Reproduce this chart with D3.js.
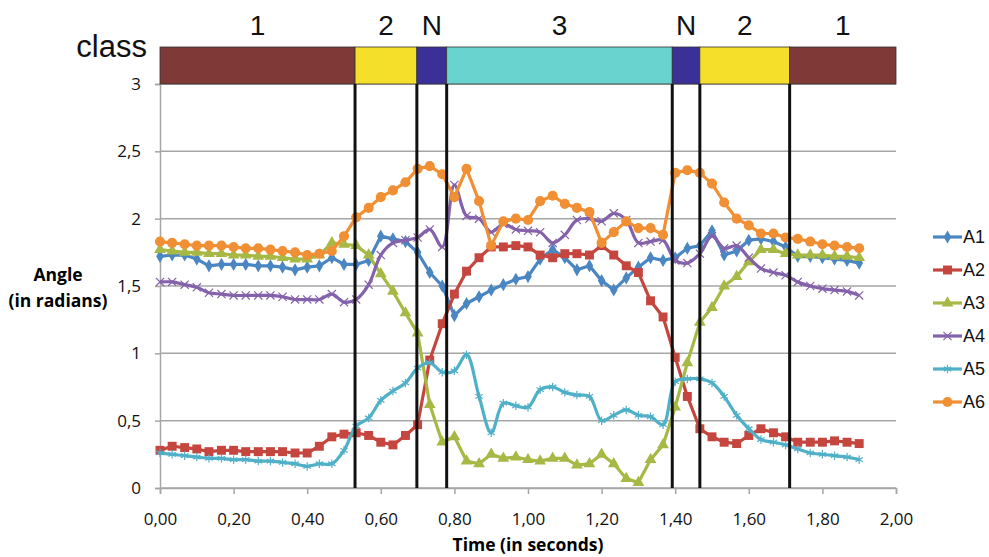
<!DOCTYPE html>
<html>
<head>
<meta charset="utf-8">
<script src="https://cdn.jsdelivr.net/npm/d3@7"></script>
<style>
  body { margin: 0; background: #fff; }
  svg { display: block; }
</style>
</head>
<body>
<svg id="canvas"></svg>
<script>
// time of every sample (30 frames per second)
const times = [0, 0.033, 0.067, 0.1, 0.133, 0.167, 0.2, 0.233, 0.267, 0.3,
    0.333, 0.367, 0.4, 0.433, 0.467, 0.5, 0.533, 0.567, 0.6, 0.633,
    0.667, 0.7, 0.733, 0.767, 0.8, 0.833, 0.867, 0.9, 0.933, 0.967,
    1, 1.033, 1.067, 1.1, 1.133, 1.167, 1.2, 1.233, 1.267, 1.3,
    1.333, 1.367, 1.4, 1.433, 1.467, 1.5, 1.533, 1.567, 1.6, 1.633,
    1.667, 1.7, 1.733, 1.767, 1.8, 1.833, 1.867, 1.9];

const A1 = [1.72,1.73,1.73,1.70,1.65,1.66,1.66,1.66,1.65,1.65,1.64,1.62,1.64,1.65,1.71,1.66,1.66,1.69,
    1.87,1.85,1.83,1.75,1.60,1.50,1.28,1.37,1.42,1.47,1.51,1.55,1.57,1.70,1.77,
    1.71,1.62,1.65,1.54,1.47,1.56,1.64,1.71,1.69,1.71,1.78,1.80,1.91,1.73,1.76,
    1.84,1.85,1.83,1.79,1.72,1.72,1.71,1.70,1.69,1.67];
const A2 = [0.28,0.31,0.30,0.29,0.27,0.28,0.28,0.27,0.27,0.27,0.27,0.26,0.26,0.31,0.38,
    0.40,0.41,0.39,0.34,0.32,0.39,0.47,0.95,1.22,1.44,1.61,1.71,1.79,1.79,1.80,1.79,1.73,1.71,
    1.74,1.74,1.73,1.80,1.73,1.65,1.60,1.39,1.27,0.97,0.68,0.44,0.38,0.34,0.33,
    0.39,0.44,0.41,0.38,0.34,0.34,0.34,0.35,0.34,0.33];
const A3 = [1.77,1.76,1.75,1.75,1.74,1.74,1.73,1.73,1.72,1.72,1.71,1.70,1.70,
    1.73,1.82,1.81,1.80,1.73,1.59,1.46,1.30,1.15,
    0.62,0.34,0.38,0.20,0.18,0.25,0.22,0.23,0.21,0.20,0.22,
    0.22,0.17,0.18,0.25,0.18,0.07,0.04,0.21,0.32,0.60,0.93,
    1.23,1.34,1.50,1.57,1.68,1.77,1.77,1.74,1.73,1.73,1.73,1.72,1.72,1.71];
const A4 = [1.53,1.53,1.51,1.49,1.45,1.44,1.43,1.43,1.43,1.43,1.42,1.40,1.40,1.40,1.44,1.38,1.40,1.51,
    1.73,1.82,1.84,1.86,1.92,1.79,2.25,2.02,2.00,1.90,1.96,1.92,1.91,1.90,1.82,
    1.88,1.99,2.00,1.98,2.04,1.99,1.82,1.83,1.84,1.69,1.67,1.74,1.87,1.78,1.80,
    1.71,1.63,1.60,1.58,1.53,1.50,1.48,1.47,1.46,1.43];
const A5 = [0.26,0.25,0.24,0.23,0.22,0.22,0.21,0.21,0.20,0.20,0.19,0.18,0.16,0.18,0.18,
    0.28,0.46,0.52,0.65,0.72,0.78,0.89,0.93,0.86,0.87,0.99,0.68,0.41,0.63,0.61,0.60,0.73,0.75,
    0.71,0.69,0.68,0.50,0.54,0.58,0.54,0.53,0.47,0.79,0.81,0.81,0.78,0.68,0.54,
    0.44,0.36,0.34,0.32,0.29,0.26,0.25,0.24,0.23,0.21];
const A6 = [1.83,1.82,1.81,1.80,1.80,1.80,1.79,1.78,1.78,1.77,1.76,1.75,1.73,1.74,1.76,
    1.87,2.01,2.08,2.16,2.21,2.27,2.37,2.39,2.33,2.16,2.37,2.13,1.80,1.98,2.00,1.99,2.13,2.17,
    2.11,2.08,2.05,1.82,1.90,1.98,1.93,1.93,1.88,2.34,2.36,2.34,2.26,2.12,2.00,
    1.95,1.89,1.89,1.86,1.85,1.83,1.81,1.80,1.79,1.78];

const seriesNames = ["A1", "A2", "A3", "A4", "A5", "A6"];
const seriesValues = [A1, A2, A3, A4, A5, A6];

// class band along the top: boundaries in seconds and the label of each part
const classBounds = [0, 0.530, 0.698, 0.779, 1.392, 1.467, 1.711, 2.0];
const classLabels = ["1", "2", "N", "3", "N", "2", "1"];

const xTicks = [0, 0.2, 0.4, 0.6, 0.8, 1.0, 1.2, 1.4, 1.6, 1.8, 2.0];
const yTicks = [0, 0.5, 1, 1.5, 2, 2.5, 3];

const svg = d3.select("#canvas");
const width = 989;
const height = 557;
svg.attr("width", width).attr("height", height);

const marginLeft = 160;
const plotRight = 896;
const plotTop = 84;
const plotBottom = 488;

const tickFont = "'Open Sans', Lato, sans-serif";

const x = d3.scaleLinear().domain([0, 2]).range([marginLeft, plotRight]);
const y = d3.scaleLinear().domain([0, 3]).range([plotBottom, plotTop]);

const color = d3.scaleOrdinal()
    .domain(seriesNames)
    .range(["#4a86c2", "#c4463f", "#a8b845", "#8462ab", "#4fb0c8", "#f08f33"]);

const classColor = d3.scaleOrdinal()
    .domain(["1", "2", "N", "3"])
    .range(["#7f3a38", "#f6df2b", "#3b2f98", "#69d3d0"]);

// marker shapes per series
const markerType = {
    A1: d3.symbolDiamond, A2: d3.symbolSquare, A3: d3.symbolTriangle,
    A4: d3.symbolTimes, A5: d3.symbolAsterisk, A6: d3.symbolCircle
};
const markerSize = { A1: 50, A2: 80, A3: 60, A4: 45, A5: 50, A6: 80 };
const strokeMarker = { A4: true, A5: true };
const smooth = { A4: true, A5: true };

// gridlines
svg.append("g")
    .selectAll("line")
    .data(yTicks)
    .join("line")
    .attr("x1", marginLeft)
    .attr("x2", plotRight)
    .attr("y1", d => y(d))
    .attr("y2", d => y(d))
    .attr("stroke", "#a6a6a6")
    .attr("stroke-width", 1.5);

// y axis
const yAxis = svg.append("g")
    .attr("transform", `translate(${marginLeft},0)`)
    .call(d3.axisLeft(y).tickValues(yTicks).tickSize(5).tickPadding(14)
        .tickFormat(d => String(d).replace(".", ",")));
yAxis.select(".domain").attr("stroke", "#a6a6a6").attr("stroke-width", 1.5);
yAxis.selectAll(".tick line").attr("stroke", "#a6a6a6").attr("stroke-width", 1.5);
yAxis.selectAll("text")
    .attr("font-family", tickFont)
    .attr("font-size", 17)
    .attr("fill", "#111");

// x axis
const xAxis = svg.append("g")
    .attr("transform", `translate(0,${plotBottom})`)
    .call(d3.axisBottom(x).tickValues(xTicks).tickSize(6).tickPadding(19)
        .tickFormat(d => d3.format(".2f")(d).replace(".", ",")));
xAxis.select(".domain").attr("stroke", "#a6a6a6").attr("stroke-width", 1.5);
xAxis.selectAll(".tick line").attr("stroke", "#a6a6a6").attr("stroke-width", 1.5);
xAxis.selectAll("text")
    .attr("font-family", tickFont)
    .attr("font-size", 17)
    .attr("fill", "#111");

// axis titles
svg.append("text")
    .attr("x", 58)
    .attr("y", 281)
    .attr("text-anchor", "middle")
    .attr("font-family", tickFont)
    .attr("font-weight", "bold")
    .attr("font-size", 17.5)
    .text("Angle");
svg.append("text")
    .attr("x", 58)
    .attr("y", 307)
    .attr("text-anchor", "middle")
    .attr("font-family", tickFont)
    .attr("font-weight", "bold")
    .attr("font-size", 17.5)
    .text("(in radians)");
svg.append("text")
    .attr("x", 528)
    .attr("y", 551)
    .attr("text-anchor", "middle")
    .attr("font-family", tickFont)
    .attr("font-weight", "bold")
    .attr("font-size", 17.5)
    .text("Time (in seconds)");

// class band
const bands = classLabels.map((c, i) => ({ label: c, x0: classBounds[i], x1: classBounds[i + 1] }));
svg.append("g")
    .selectAll("rect")
    .data(bands)
    .join("rect")
    .attr("x", d => x(d.x0))
    .attr("y", 47)
    .attr("width", d => x(d.x1) - x(d.x0))
    .attr("height", plotTop - 47)
    .attr("fill", d => classColor(d.label))
    .attr("stroke", "#333")
    .attr("stroke-width", 0.8);

svg.append("g")
    .selectAll("text")
    .data(bands)
    .join("text")
    .attr("x", d => x((d.x0 + d.x1) / 2))
    .attr("y", 35)
    .attr("text-anchor", "middle")
    .attr("font-family", "'Liberation Sans', Arial, sans-serif")
    .attr("font-size", 28)
    .attr("fill", "#111")
    .text(d => d.label);

svg.append("text")
    .attr("x", 147)
    .attr("y", 57)
    .attr("text-anchor", "end")
    .attr("font-family", "'Liberation Sans', Arial, sans-serif")
    .attr("font-size", 31)
    .attr("fill", "#111")
    .text("class");

// series lines and markers
seriesNames.forEach((name, k) => {
    const vals = seriesValues[k];
    const pts = times.map((t, i) => [t, vals[i]]);
    const line = d3.line()
        .x(d => x(d[0]))
        .y(d => y(d[1]))
        .curve(smooth[name] ? d3.curveCatmullRom.alpha(0.5) : d3.curveLinear);

    svg.append("path")
        .datum(pts)
        .attr("fill", "none")
        .attr("stroke", color(name))
        .attr("stroke-width", 3.2)
        .attr("stroke-linejoin", "round")
        .attr("d", line);

    const sym = d3.symbol().type(markerType[name]).size(markerSize[name]);
    svg.append("g")
        .selectAll("path")
        .data(pts)
        .join("path")
        .attr("transform", d => `translate(${x(d[0])},${y(d[1])})`)
        .attr("d", sym)
        .attr("fill", strokeMarker[name] ? "none" : color(name))
        .attr("stroke", strokeMarker[name] ? color(name) : "none")
        .attr("stroke-width", 1.2);
});

// class boundary lines
svg.append("g")
    .selectAll("line")
    .data(classBounds.slice(1, -1))
    .join("line")
    .attr("x1", d => x(d))
    .attr("x2", d => x(d))
    .attr("y1", plotTop)
    .attr("y2", plotBottom)
    .attr("stroke", "#111")
    .attr("stroke-width", 3);

// legend
const legend = svg.append("g")
    .selectAll("g")
    .data(seriesNames)
    .join("g")
    .attr("transform", (d, i) => `translate(933,${237 + i * 33})`);

legend.append("line")
    .attr("x1", 0)
    .attr("x2", 29)
    .attr("stroke", d => color(d))
    .attr("stroke-width", 3.2);

legend.append("path")
    .attr("transform", "translate(14.5,0)")
    .attr("d", d => d3.symbol().type(markerType[d]).size(markerSize[d])())
    .attr("fill", d => strokeMarker[d] ? "none" : color(d))
    .attr("stroke", d => strokeMarker[d] ? color(d) : "none")
    .attr("stroke-width", 1.2);

legend.append("text")
    .attr("x", 30)
    .attr("y", 0)
    .attr("dy", "0.35em")
    .attr("font-family", "'Liberation Sans', Arial, sans-serif")
    .attr("font-size", 18)
    .attr("fill", "#111")
    .text(d => d);
</script>
</body>
</html>
